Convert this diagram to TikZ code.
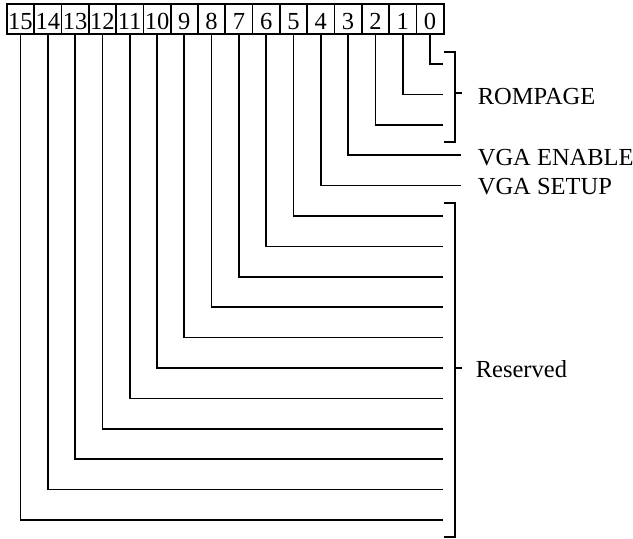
\documentclass[tikz,border=0pt]{standalone}
\usepackage{fontspec}
\setmainfont{Liberation Serif}
\begin{document}
\begin{tikzpicture}[x=1pt,y=-1pt,
  line width=1.7pt,
  bitbox/.style={draw, minimum width=27.3pt, minimum height=30pt, inner sep=0pt,
    text height=26pt, text depth=4pt,
    anchor=north west, font=\fontsize{24.5}{28}\selectfont},
  wire/.style={draw, line cap=butt},
  lbl/.style={anchor=base west, inner sep=0pt, font=\fontsize{24.5}{28}\selectfont}]
\useasboundingbox (0,0) rectangle (633,539);
% bit boxes
\foreach \k in {0,...,15}{
  \pgfmathsetmacro{\xx}{6+27.3*(15-\k)}
  \node[bitbox] (b\k) at (\xx,3) {\k};
}
% end coordinates of connectors
\foreach \k in {0,1,2,5,6,7,8,9,10,11,12,13,14,15}{
  \coordinate (e\k) at (443,{64+30.4*\k});
}
\coordinate (e3) at (461,{64+30.4*3});
\coordinate (e4) at (461,{64+30.4*4});
% connectors
\foreach \k in {0,...,15}{
  \draw[wire] (b\k.south) |- (e\k);
}
% ROMPAGE bracket
\coordinate (r1) at (444,52);
\coordinate (r2) at (455,52);
\coordinate (r3) at (455,142);
\coordinate (r4) at (444,142);
\coordinate (rm) at (455,93);
\coordinate (rt) at (462,93);
\draw (r1) -- (r2) -- (r3) -- (r4);
\draw (rm) -- (rt);
\node[lbl] (rompage) at (477,104) {ROMPAGE};
% VGA labels
\node[lbl] (vgaen) at (477,165) {VGA ENABLE};
\node[lbl] (vgasu) at (477,194) {VGA SETUP};
% Reserved bracket
\coordinate (s1) at (444,203);
\coordinate (s2) at (455,203);
\coordinate (s3) at (455,537);
\coordinate (s4) at (444,537);
\coordinate (sm) at (455,368);
\coordinate (st) at (462,368);
\draw (s1) -- (s2) -- (s3) -- (s4);
\draw (sm) -- (st);
\node[lbl] (reserved) at (475,377) {Reserved};
\end{tikzpicture}
\end{document}
